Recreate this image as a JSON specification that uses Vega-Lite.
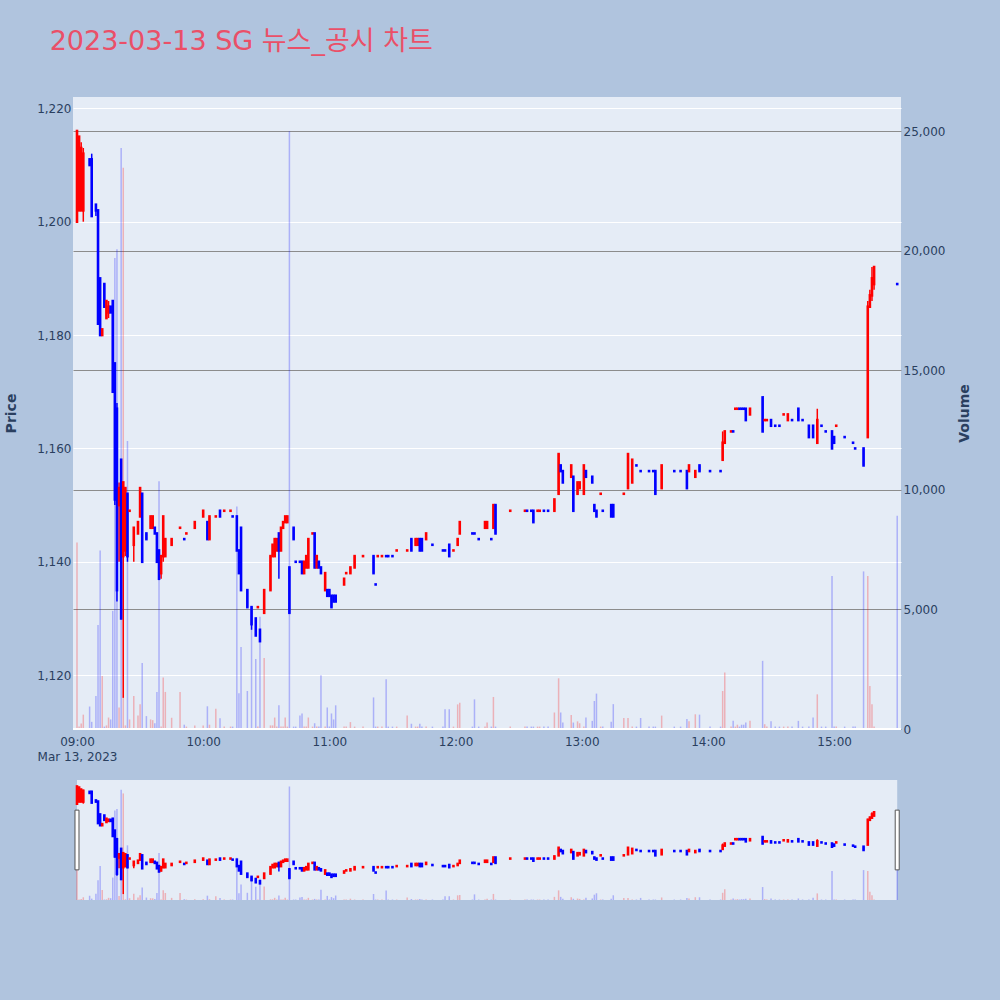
{
  "$schema": "https://vega.github.io/schema/vega-lite/v6.json",
  "background": "#b0c4de",
  "padding": {"left": 4, "top": 28, "right": 29, "bottom": 100},
  "title": {"text": "2023-03-13 SG 뉴스_공시 차트", "anchor": "start", "offset": 41, "dx": 45, "font": "DejaVu Sans, Noto Sans CJK KR", "fontSize": 27, "fontWeight": "normal", "color": "#ea5068"},
  "config": {
    "view": {"stroke": null},
    "font": "DejaVu Sans",
    "axis": {"labelFont": "DejaVu Sans", "labelFontSize": 12, "labelColor": "#2a3f5f", "titleFont": "DejaVu Sans", "titleFontSize": 14, "titleFontWeight": "bold", "titleColor": "#2a3f5f", "domain": false, "ticks": false}
  },
  "spacing": 18,
  "datasets": {
    "k": [
      {"d":"2023-03-13T09:00","o":1200,"h":1216,"l":1200,"c":1216,"v":7800},
      {"d":"2023-03-13T09:01","o":1202,"h":1215,"l":1202,"c":1215,"v":100},
      {"d":"2023-03-13T09:02","o":1202,"h":1214,"l":1202,"c":1213,"v":230},
      {"d":"2023-03-13T09:03","o":1202,"h":1213,"l":1200,"c":1212,"v":600},
      {"d":"2023-03-13T09:06","o":1211,"h":1211,"l":1210,"c":1210,"v":940},
      {"d":"2023-03-13T09:07","o":1211,"h":1212,"l":1201,"c":1201,"v":300},
      {"d":"2023-03-13T09:09","o":1203,"h":1203,"l":1201,"c":1202,"v":1380},
      {"d":"2023-03-13T09:10","o":1202,"h":1202,"l":1182,"c":1182,"v":4350},
      {"d":"2023-03-13T09:11","o":1190,"h":1190,"l":1180,"c":1180,"v":7470},
      {"d":"2023-03-13T09:12","o":1180,"h":1181,"l":1180,"c":1181,"v":2220},
      {"d":"2023-03-13T09:13","o":1189,"h":1189,"l":1185,"c":1185,"v":100},
      {"d":"2023-03-13T09:14","o":1183,"h":1186,"l":1183,"c":1186,"v":150},
      {"d":"2023-03-13T09:15","o":1184,"h":1186,"l":1183,"c":1185,"v":480},
      {"d":"2023-03-13T09:16","o":1185,"h":1185,"l":1184,"c":1184,"v":400},
      {"d":"2023-03-13T09:17","o":1186,"h":1186,"l":1170,"c":1170,"v":4940},
      {"d":"2023-03-13T09:18","o":1175,"h":1175,"l":1150,"c":1151,"v":19700},
      {"d":"2023-03-13T09:19","o":1167,"h":1168,"l":1133,"c":1135,"v":20060},
      {"d":"2023-03-13T09:20","o":1150,"h":1154,"l":1140,"c":1153,"v":900},
      {"d":"2023-03-13T09:21","o":1158,"h":1158,"l":1130,"c":1130,"v":24300},
      {"d":"2023-03-13T09:22","o":1141,"h":1154,"l":1116,"c":1154,"v":23470},
      {"d":"2023-03-13T09:23","o":1142,"h":1153,"l":1141,"c":1153,"v":150},
      {"d":"2023-03-13T09:24","o":1152,"h":1152,"l":1140,"c":1141,"v":12040},
      {"d":"2023-03-13T09:25","o":1149,"h":1149,"l":1149,"c":1149,"v":400},
      {"d":"2023-03-13T09:27","o":1143,"h":1146,"l":1140,"c":1146,"v":1380},
      {"d":"2023-03-13T09:29","o":1145,"h":1147,"l":1145,"c":1147,"v":560},
      {"d":"2023-03-13T09:30","o":1148,"h":1153,"l":1148,"c":1153,"v":1040},
      {"d":"2023-03-13T09:31","o":1152,"h":1152,"l":1140,"c":1140,"v":2760},
      {"d":"2023-03-13T09:33","o":1145,"h":1145,"l":1144,"c":1144,"v":540},
      {"d":"2023-03-13T09:35","o":1146,"h":1148,"l":1146,"c":1148,"v":400},
      {"d":"2023-03-13T09:36","o":1146,"h":1148,"l":1146,"c":1148,"v":370},
      {"d":"2023-03-13T09:37","o":1146,"h":1146,"l":1145,"c":1145,"v":240},
      {"d":"2023-03-13T09:38","o":1145,"h":1145,"l":1140,"c":1140,"v":1550},
      {"d":"2023-03-13T09:39","o":1142,"h":1142,"l":1137,"c":1137,"v":10360},
      {"d":"2023-03-13T09:40","o":1138,"h":1141,"l":1137,"c":1141,"v":100},
      {"d":"2023-03-13T09:41","o":1141,"h":1148,"l":1140,"c":1148,"v":2150},
      {"d":"2023-03-13T09:42","o":1141,"h":1144,"l":1141,"c":1144,"v":1550},
      {"d":"2023-03-13T09:45","o":1143,"h":1144,"l":1143,"c":1144,"v":470},
      {"d":"2023-03-13T09:49","o":1146,"h":1146,"l":1146,"c":1146,"v":1550},
      {"d":"2023-03-13T09:51","o":1144,"h":1144,"l":1144,"c":1144,"v":180},
      {"d":"2023-03-13T09:52","o":1145,"h":1145,"l":1145,"c":1145,"v":100},
      {"d":"2023-03-13T09:56","o":1146,"h":1147,"l":1146,"c":1147,"v":150},
      {"d":"2023-03-13T10:00","o":1148,"h":1149,"l":1148,"c":1149,"v":150},
      {"d":"2023-03-13T10:02","o":1147,"h":1147,"l":1144,"c":1144,"v":950},
      {"d":"2023-03-13T10:03","o":1144,"h":1148,"l":1144,"c":1148,"v":180},
      {"d":"2023-03-13T10:06","o":1148,"h":1148,"l":1148,"c":1148,"v":850},
      {"d":"2023-03-13T10:08","o":1149,"h":1149,"l":1148,"c":1148,"v":450},
      {"d":"2023-03-13T10:10","o":1149,"h":1149,"l":1149,"c":1149,"v":100},
      {"d":"2023-03-13T10:13","o":1149,"h":1149,"l":1149,"c":1149,"v":100},
      {"d":"2023-03-13T10:14","o":1148,"h":1148,"l":1148,"c":1148,"v":100},
      {"d":"2023-03-13T10:16","o":1148,"h":1148,"l":1142,"c":1142,"v":9300},
      {"d":"2023-03-13T10:17","o":1142,"h":1142,"l":1138,"c":1138,"v":1500},
      {"d":"2023-03-13T10:18","o":1146,"h":1146,"l":1135,"c":1135,"v":3430},
      {"d":"2023-03-13T10:21","o":1135,"h":1135,"l":1132,"c":1132,"v":1590},
      {"d":"2023-03-13T10:23","o":1132,"h":1132,"l":1128,"c":1129,"v":4900},
      {"d":"2023-03-13T10:25","o":1130,"h":1130,"l":1127,"c":1127,"v":2930},
      {"d":"2023-03-13T10:26","o":1132,"h":1132,"l":1132,"c":1132,"v":100},
      {"d":"2023-03-13T10:27","o":1128,"h":1128,"l":1126,"c":1126,"v":4690},
      {"d":"2023-03-13T10:29","o":1131,"h":1135,"l":1131,"c":1135,"v":2970},
      {"d":"2023-03-13T10:32","o":1135,"h":1141,"l":1135,"c":1141,"v":150},
      {"d":"2023-03-13T10:33","o":1141,"h":1143,"l":1141,"c":1143,"v":150},
      {"d":"2023-03-13T10:34","o":1141,"h":1144,"l":1141,"c":1144,"v":480},
      {"d":"2023-03-13T10:35","o":1142,"h":1144,"l":1142,"c":1144,"v":100},
      {"d":"2023-03-13T10:36","o":1145,"h":1145,"l":1137,"c":1142,"v":990},
      {"d":"2023-03-13T10:37","o":1142,"h":1146,"l":1142,"c":1146,"v":100},
      {"d":"2023-03-13T10:38","o":1146,"h":1147,"l":1146,"c":1147,"v":100},
      {"d":"2023-03-13T10:39","o":1147,"h":1148,"l":1147,"c":1148,"v":480},
      {"d":"2023-03-13T10:40","o":1147,"h":1148,"l":1147,"c":1148,"v":100},
      {"d":"2023-03-13T10:41","o":1139,"h":1139,"l":1131,"c":1131,"v":25000},
      {"d":"2023-03-13T10:43","o":1146,"h":1146,"l":1144,"c":1144,"v":100},
      {"d":"2023-03-13T10:44","o":1140,"h":1140,"l":1140,"c":1140,"v":100},
      {"d":"2023-03-13T10:46","o":1140,"h":1140,"l":1140,"c":1140,"v":560},
      {"d":"2023-03-13T10:47","o":1140,"h":1140,"l":1138,"c":1138,"v":650},
      {"d":"2023-03-13T10:48","o":1138,"h":1140,"l":1138,"c":1140,"v":100},
      {"d":"2023-03-13T10:49","o":1139,"h":1141,"l":1139,"c":1141,"v":100},
      {"d":"2023-03-13T10:50","o":1139,"h":1144,"l":1139,"c":1144,"v":480},
      {"d":"2023-03-13T10:52","o":1145,"h":1145,"l":1145,"c":1145,"v":100},
      {"d":"2023-03-13T10:53","o":1145,"h":1145,"l":1139,"c":1139,"v":240},
      {"d":"2023-03-13T10:54","o":1139,"h":1141,"l":1139,"c":1141,"v":100},
      {"d":"2023-03-13T10:55","o":1140,"h":1140,"l":1139,"c":1139,"v":100},
      {"d":"2023-03-13T10:56","o":1139,"h":1139,"l":1138,"c":1138,"v":2250},
      {"d":"2023-03-13T10:58","o":1135,"h":1138,"l":1135,"c":1138,"v":100},
      {"d":"2023-03-13T10:59","o":1135,"h":1135,"l":1134,"c":1134,"v":900},
      {"d":"2023-03-13T11:00","o":1135,"h":1135,"l":1134,"c":1134,"v":100},
      {"d":"2023-03-13T11:01","o":1134,"h":1134,"l":1132,"c":1132,"v":650},
      {"d":"2023-03-13T11:02","o":1134,"h":1134,"l":1133,"c":1133,"v":400},
      {"d":"2023-03-13T11:03","o":1134,"h":1134,"l":1133,"c":1133,"v":990},
      {"d":"2023-03-13T11:07","o":1136,"h":1137,"l":1136,"c":1137,"v":100},
      {"d":"2023-03-13T11:08","o":1138,"h":1138,"l":1138,"c":1138,"v":100},
      {"d":"2023-03-13T11:10","o":1138,"h":1139,"l":1138,"c":1139,"v":290},
      {"d":"2023-03-13T11:12","o":1139,"h":1141,"l":1139,"c":1141,"v":100},
      {"d":"2023-03-13T11:16","o":1141,"h":1141,"l":1141,"c":1141,"v":100},
      {"d":"2023-03-13T11:21","o":1141,"h":1141,"l":1138,"c":1138,"v":1320},
      {"d":"2023-03-13T11:22","o":1136,"h":1136,"l":1136,"c":1136,"v":100},
      {"d":"2023-03-13T11:23","o":1141,"h":1141,"l":1141,"c":1141,"v":100},
      {"d":"2023-03-13T11:25","o":1141,"h":1141,"l":1141,"c":1141,"v":100},
      {"d":"2023-03-13T11:27","o":1141,"h":1141,"l":1141,"c":1141,"v":2080},
      {"d":"2023-03-13T11:28","o":1141,"h":1141,"l":1141,"c":1141,"v":100},
      {"d":"2023-03-13T11:30","o":1141,"h":1141,"l":1141,"c":1141,"v":100},
      {"d":"2023-03-13T11:32","o":1142,"h":1142,"l":1142,"c":1142,"v":100},
      {"d":"2023-03-13T11:37","o":1142,"h":1142,"l":1142,"c":1142,"v":560},
      {"d":"2023-03-13T11:39","o":1144,"h":1144,"l":1142,"c":1142,"v":220},
      {"d":"2023-03-13T11:41","o":1143,"h":1144,"l":1143,"c":1144,"v":100},
      {"d":"2023-03-13T11:42","o":1143,"h":1144,"l":1143,"c":1144,"v":100},
      {"d":"2023-03-13T11:43","o":1144,"h":1144,"l":1142,"c":1142,"v":220},
      {"d":"2023-03-13T11:44","o":1144,"h":1144,"l":1142,"c":1142,"v":100},
      {"d":"2023-03-13T11:46","o":1144,"h":1145,"l":1144,"c":1145,"v":100},
      {"d":"2023-03-13T11:49","o":1143,"h":1143,"l":1143,"c":1143,"v":100},
      {"d":"2023-03-13T11:54","o":1142,"h":1142,"l":1142,"c":1142,"v":100},
      {"d":"2023-03-13T11:55","o":1142,"h":1142,"l":1142,"c":1142,"v":830},
      {"d":"2023-03-13T11:57","o":1143,"h":1143,"l":1141,"c":1141,"v":830},
      {"d":"2023-03-13T11:59","o":1142,"h":1142,"l":1142,"c":1142,"v":100},
      {"d":"2023-03-13T12:01","o":1143,"h":1144,"l":1143,"c":1144,"v":1030},
      {"d":"2023-03-13T12:02","o":1145,"h":1147,"l":1145,"c":1147,"v":1100},
      {"d":"2023-03-13T12:08","o":1145,"h":1145,"l":1145,"c":1145,"v":100},
      {"d":"2023-03-13T12:09","o":1145,"h":1145,"l":1145,"c":1145,"v":1240},
      {"d":"2023-03-13T12:11","o":1144,"h":1144,"l":1144,"c":1144,"v":100},
      {"d":"2023-03-13T12:14","o":1146,"h":1147,"l":1146,"c":1147,"v":100},
      {"d":"2023-03-13T12:15","o":1146,"h":1147,"l":1146,"c":1147,"v":270},
      {"d":"2023-03-13T12:17","o":1144,"h":1144,"l":1144,"c":1144,"v":100},
      {"d":"2023-03-13T12:18","o":1146,"h":1150,"l":1146,"c":1150,"v":1340},
      {"d":"2023-03-13T12:19","o":1150,"h":1150,"l":1145,"c":1145,"v":100},
      {"d":"2023-03-13T12:26","o":1149,"h":1149,"l":1149,"c":1149,"v":100},
      {"d":"2023-03-13T12:33","o":1149,"h":1149,"l":1149,"c":1149,"v":100},
      {"d":"2023-03-13T12:34","o":1149,"h":1149,"l":1149,"c":1149,"v":100},
      {"d":"2023-03-13T12:36","o":1149,"h":1149,"l":1149,"c":1149,"v":100},
      {"d":"2023-03-13T12:37","o":1149,"h":1149,"l":1147,"c":1147,"v":100},
      {"d":"2023-03-13T12:39","o":1149,"h":1149,"l":1149,"c":1149,"v":100},
      {"d":"2023-03-13T12:40","o":1149,"h":1149,"l":1149,"c":1149,"v":100},
      {"d":"2023-03-13T12:42","o":1149,"h":1149,"l":1149,"c":1149,"v":100},
      {"d":"2023-03-13T12:44","o":1149,"h":1149,"l":1149,"c":1149,"v":100},
      {"d":"2023-03-13T12:47","o":1149,"h":1151,"l":1149,"c":1151,"v":690},
      {"d":"2023-03-13T12:49","o":1152,"h":1159,"l":1152,"c":1159,"v":2120},
      {"d":"2023-03-13T12:50","o":1157,"h":1157,"l":1156,"c":1156,"v":690},
      {"d":"2023-03-13T12:51","o":1156,"h":1156,"l":1154,"c":1154,"v":270},
      {"d":"2023-03-13T12:55","o":1155,"h":1157,"l":1155,"c":1157,"v":590},
      {"d":"2023-03-13T12:56","o":1155,"h":1155,"l":1149,"c":1149,"v":270},
      {"d":"2023-03-13T12:58","o":1152,"h":1154,"l":1152,"c":1154,"v":320},
      {"d":"2023-03-13T12:59","o":1153,"h":1154,"l":1153,"c":1154,"v":240},
      {"d":"2023-03-13T13:01","o":1152,"h":1157,"l":1152,"c":1157,"v":100},
      {"d":"2023-03-13T13:02","o":1156,"h":1156,"l":1155,"c":1155,"v":480},
      {"d":"2023-03-13T13:05","o":1155,"h":1155,"l":1154,"c":1154,"v":340},
      {"d":"2023-03-13T13:06","o":1150,"h":1150,"l":1149,"c":1149,"v":1170},
      {"d":"2023-03-13T13:07","o":1149,"h":1149,"l":1148,"c":1148,"v":1480},
      {"d":"2023-03-13T13:09","o":1152,"h":1152,"l":1152,"c":1152,"v":100},
      {"d":"2023-03-13T13:10","o":1149,"h":1149,"l":1149,"c":1149,"v":100},
      {"d":"2023-03-13T13:14","o":1150,"h":1150,"l":1148,"c":1148,"v":300},
      {"d":"2023-03-13T13:15","o":1150,"h":1150,"l":1148,"c":1148,"v":1040},
      {"d":"2023-03-13T13:20","o":1152,"h":1152,"l":1152,"c":1152,"v":460},
      {"d":"2023-03-13T13:22","o":1153,"h":1159,"l":1153,"c":1159,"v":460},
      {"d":"2023-03-13T13:24","o":1154,"h":1158,"l":1154,"c":1158,"v":100},
      {"d":"2023-03-13T13:26","o":1157,"h":1157,"l":1157,"c":1157,"v":100},
      {"d":"2023-03-13T13:28","o":1156,"h":1156,"l":1156,"c":1156,"v":460},
      {"d":"2023-03-13T13:32","o":1156,"h":1156,"l":1156,"c":1156,"v":100},
      {"d":"2023-03-13T13:34","o":1156,"h":1156,"l":1156,"c":1156,"v":100},
      {"d":"2023-03-13T13:35","o":1156,"h":1156,"l":1152,"c":1152,"v":100},
      {"d":"2023-03-13T13:38","o":1153,"h":1157,"l":1153,"c":1157,"v":560},
      {"d":"2023-03-13T13:44","o":1156,"h":1156,"l":1156,"c":1156,"v":100},
      {"d":"2023-03-13T13:47","o":1156,"h":1156,"l":1156,"c":1156,"v":100},
      {"d":"2023-03-13T13:50","o":1156,"h":1156,"l":1153,"c":1153,"v":420},
      {"d":"2023-03-13T13:51","o":1156,"h":1157,"l":1156,"c":1157,"v":320},
      {"d":"2023-03-13T13:54","o":1155,"h":1156,"l":1155,"c":1156,"v":615},
      {"d":"2023-03-13T13:56","o":1157,"h":1157,"l":1156,"c":1156,"v":600},
      {"d":"2023-03-13T14:01","o":1156,"h":1156,"l":1156,"c":1156,"v":100},
      {"d":"2023-03-13T14:06","o":1156,"h":1156,"l":1156,"c":1156,"v":100},
      {"d":"2023-03-13T14:07","o":1158,"h":1163,"l":1158,"c":1161,"v":1590},
      {"d":"2023-03-13T14:08","o":1161,"h":1163,"l":1161,"c":1163,"v":2360},
      {"d":"2023-03-13T14:11","o":1163,"h":1163,"l":1163,"c":1163,"v":100},
      {"d":"2023-03-13T14:12","o":1163,"h":1163,"l":1163,"c":1163,"v":340},
      {"d":"2023-03-13T14:13","o":1167,"h":1167,"l":1167,"c":1167,"v":100},
      {"d":"2023-03-13T14:14","o":1167,"h":1167,"l":1167,"c":1167,"v":180},
      {"d":"2023-03-13T14:15","o":1167,"h":1167,"l":1167,"c":1167,"v":100},
      {"d":"2023-03-13T14:16","o":1167,"h":1167,"l":1167,"c":1167,"v":180},
      {"d":"2023-03-13T14:17","o":1167,"h":1167,"l":1167,"c":1167,"v":180},
      {"d":"2023-03-13T14:18","o":1167,"h":1167,"l":1165,"c":1165,"v":270},
      {"d":"2023-03-13T14:20","o":1166,"h":1167,"l":1166,"c":1167,"v":340},
      {"d":"2023-03-13T14:26","o":1169,"h":1169,"l":1163,"c":1163,"v":2850},
      {"d":"2023-03-13T14:27","o":1165,"h":1165,"l":1165,"c":1165,"v":200},
      {"d":"2023-03-13T14:28","o":1165,"h":1165,"l":1165,"c":1165,"v":100},
      {"d":"2023-03-13T14:30","o":1165,"h":1165,"l":1164,"c":1164,"v":320},
      {"d":"2023-03-13T14:32","o":1164,"h":1164,"l":1164,"c":1164,"v":100},
      {"d":"2023-03-13T14:34","o":1164,"h":1164,"l":1164,"c":1164,"v":100},
      {"d":"2023-03-13T14:36","o":1166,"h":1166,"l":1166,"c":1166,"v":100},
      {"d":"2023-03-13T14:38","o":1165,"h":1166,"l":1165,"c":1166,"v":100},
      {"d":"2023-03-13T14:40","o":1165,"h":1165,"l":1165,"c":1165,"v":100},
      {"d":"2023-03-13T14:43","o":1167,"h":1167,"l":1165,"c":1165,"v":340},
      {"d":"2023-03-13T14:45","o":1165,"h":1165,"l":1165,"c":1165,"v":100},
      {"d":"2023-03-13T14:48","o":1164,"h":1164,"l":1162,"c":1162,"v":100},
      {"d":"2023-03-13T14:50","o":1164,"h":1164,"l":1162,"c":1162,"v":480},
      {"d":"2023-03-13T14:52","o":1161,"h":1167,"l":1161,"c":1165,"v":1450},
      {"d":"2023-03-13T14:54","o":1164,"h":1164,"l":1164,"c":1164,"v":100},
      {"d":"2023-03-13T14:56","o":1163,"h":1163,"l":1163,"c":1163,"v":100},
      {"d":"2023-03-13T14:59","o":1163,"h":1163,"l":1160,"c":1160,"v":6400},
      {"d":"2023-03-13T15:00","o":1162,"h":1162,"l":1161,"c":1161,"v":100},
      {"d":"2023-03-13T15:01","o":1164,"h":1164,"l":1164,"c":1164,"v":100},
      {"d":"2023-03-13T15:05","o":1162,"h":1162,"l":1162,"c":1162,"v":100},
      {"d":"2023-03-13T15:09","o":1161,"h":1161,"l":1161,"c":1161,"v":100},
      {"d":"2023-03-13T15:10","o":1160,"h":1160,"l":1160,"c":1160,"v":100},
      {"d":"2023-03-13T15:14","o":1160,"h":1160,"l":1157,"c":1157,"v":6590},
      {"d":"2023-03-13T15:16","o":1162,"h":1186,"l":1162,"c":1185,"v":6400},
      {"d":"2023-03-13T15:17","o":1185,"h":1188,"l":1185,"c":1187,"v":1800},
      {"d":"2023-03-13T15:18","o":1187,"h":1192,"l":1186,"c":1190,"v":1030},
      {"d":"2023-03-13T15:19","o":1189,"h":1192,"l":1188,"c":1192,"v":100},
      {"d":"2023-03-13T15:30","o":1189,"h":1189,"l":1189,"c":1189,"v":8920}
    ]
  },
  "data": {"name": "k"},
  "transform": [
    {"window": [{"op": "lag", "field": "c", "as": "pc"}, {"op": "lag", "field": "o", "as": "po"}, {"op": "lag", "field": "c", "param": 2, "as": "ppc"}], "sort": [{"field": "d", "order": "ascending"}]},
    {"calculate": "datum.c > datum.o ? 'up' : datum.c < datum.o ? 'down' : datum.c > datum.pc ? 'up' : datum.c < datum.pc ? 'down' : (datum.pc > datum.po || (datum.pc == datum.po && datum.pc > datum.ppc)) ? 'up' : 'down'", "as": "s"}
  ],
  "vconcat": [
    {
      "width": 828,
      "height": 632,
      "view": {"fill": "#e5ecf6", "stroke": null},
      "resolve": {"scale": {"y": "independent"}},
      "encoding": {
        "x": {
          "field": "d", "type": "temporal",
          "scale": {"domain": [{"year": 2023, "month": 3, "date": 13, "hours": 8, "minutes": 58, "seconds": 6}, {"year": 2023, "month": 3, "date": 13, "hours": 15, "minutes": 31, "seconds": 48}], "nice": false, "padding": 0},
          "axis": {
            "title": "Mar 13, 2023", "titleFontWeight": "normal", "titleFontSize": 12, "titleX": 4, "titleY": 22, "titleAlign": "center", "titleBaseline": "top",
            "grid": false, "format": "%H:%M", "labelPadding": 7, "labelFlush": false,
            "values": [
              {"year": 2023, "month": 3, "date": 13, "hours": 9},
              {"year": 2023, "month": 3, "date": 13, "hours": 10},
              {"year": 2023, "month": 3, "date": 13, "hours": 11},
              {"year": 2023, "month": 3, "date": 13, "hours": 12},
              {"year": 2023, "month": 3, "date": 13, "hours": 13},
              {"year": 2023, "month": 3, "date": 13, "hours": 14},
              {"year": 2023, "month": 3, "date": 13, "hours": 15}
            ]
          }
        }
      },
      "layer": [
        {
          "encoding": {
            "y": {"field": "l", "type": "quantitative", "scale": {"domain": [1110.5, 1222], "nice": false, "zero": false},
                  "axis": {"title": "Price", "orient": "left", "values": [1120, 1140, 1160, 1180, 1200, 1220], "format": ",.0f", "grid": true, "gridColor": "#ffffff", "gridWidth": 1, "labelPadding": 2, "titlePadding": 18}},
            "y2": {"field": "h"}
          },
          "layer": [
            {"mark": {"type": "rule", "strokeWidth": 1.5},
             "encoding": {"color": {"field": "s", "type": "nominal", "scale": {"domain": ["up", "down"], "range": ["#ff0000", "#0000ff"]}, "legend": null}}},
            {"mark": {"type": "rule", "strokeWidth": 2.6, "strokeCap": "square"},
             "encoding": {"y": {"field": "o", "type": "quantitative"}, "y2": {"field": "c"}, "color": {"field": "s", "type": "nominal", "scale": {"domain": ["up", "down"], "range": ["#ff0000", "#0000ff"]}, "legend": null}}}
          ]
        },
        {
          "encoding": {
            "y": {"field": "v", "type": "quantitative", "scale": {"domain": [0, 26430], "nice": false},
                  "axis": {"title": "Volume", "orient": "right", "values": [0, 5000, 10000, 15000, 20000, 25000], "format": ",.0f", "grid": true, "gridColor": "#8c8c8c", "gridWidth": 1, "labelPadding": 2, "titlePadding": 13, "titleAngle": 270, "titleBaseline": "top"}}
          },
          "layer": [
            {"mark": {"type": "bar", "width": 1.5, "opacity": 0.25},
             "encoding": {"color": {"field": "s", "type": "nominal", "scale": {"domain": ["up", "down"], "range": ["#ff0000", "#0000ff"]}, "legend": null}}},
            {"mark": {"type": "rule", "color": "#ffffff", "strokeWidth": 2},
             "encoding": {"y": {"datum": 0, "type": "quantitative"}, "x": {"value": 0}, "x2": {"value": 828}}}
          ]
        }
      ]
    },
    {
      "width": 828,
      "height": 120,
      "view": {"fill": null, "stroke": null},
      "resolve": {"scale": {"y": "independent"}},
      "encoding": {
        "x": {
          "field": "d", "type": "temporal",
          "scale": {"domain": [{"year": 2023, "month": 3, "date": 13, "hours": 8, "minutes": 58, "seconds": 6}, {"year": 2023, "month": 3, "date": 13, "hours": 15, "minutes": 31, "seconds": 48}], "nice": false, "padding": 0},
          "axis": null
        }
      },
      "layer": [
        {
          "transform": [{"aggregate": [{"op": "min", "field": "d", "as": "d0"}, {"op": "max", "field": "d", "as": "d1"}]}],
          "encoding": {
            "y": {"datum": 1222, "type": "quantitative", "scale": {"domain": [1110.5, 1222], "nice": false, "zero": false}, "axis": null},
            "y2": {"datum": 1110.5}
          },
          "layer": [
            {"mark": {"type": "rect", "fill": "#e5ecf6"},
             "encoding": {"x": {"field": "d0", "type": "temporal"}, "x2": {"field": "d1"}}}
          ]
        },
        {
          "encoding": {
            "y": {"field": "l", "type": "quantitative", "scale": {"domain": [1110.5, 1222], "nice": false, "zero": false}, "axis": null},
            "y2": {"field": "h"}
          },
          "layer": [
            {"mark": {"type": "rule", "strokeWidth": 1.5},
             "encoding": {"color": {"field": "s", "type": "nominal", "scale": {"domain": ["up", "down"], "range": ["#ff0000", "#0000ff"]}, "legend": null}}},
            {"mark": {"type": "rule", "strokeWidth": 2.6, "strokeCap": "square"},
             "encoding": {"y": {"field": "o", "type": "quantitative"}, "y2": {"field": "c"}, "color": {"field": "s", "type": "nominal", "scale": {"domain": ["up", "down"], "range": ["#ff0000", "#0000ff"]}, "legend": null}}}
          ]
        },
        {
          "mark": {"type": "bar", "width": 1.5, "opacity": 0.25},
          "encoding": {
            "y": {"field": "v", "type": "quantitative", "scale": {"domain": [0, 26430], "nice": false}, "axis": null},
            "color": {"field": "s", "type": "nominal", "scale": {"domain": ["up", "down"], "range": ["#ff0000", "#0000ff"]}, "legend": null}
          }
        },
        {
          "transform": [{"aggregate": [{"op": "min", "field": "d", "as": "d0"}, {"op": "max", "field": "d", "as": "d1"}]}],
          "encoding": {
            "y": {"datum": 1194, "type": "quantitative", "scale": {"domain": [1110.5, 1222], "nice": false, "zero": false}, "axis": null},
            "y2": {"datum": 1138.5}
          },
          "layer": [
            {"mark": {"type": "bar", "width": 4, "fill": "#ffffff", "stroke": "#555555", "strokeWidth": 1},
             "encoding": {"x": {"field": "d0", "type": "temporal"}}},
            {"mark": {"type": "bar", "width": 4, "fill": "#ffffff", "stroke": "#555555", "strokeWidth": 1},
             "encoding": {"x": {"field": "d1", "type": "temporal"}}}
          ]
        }
      ]
    }
  ]
}
